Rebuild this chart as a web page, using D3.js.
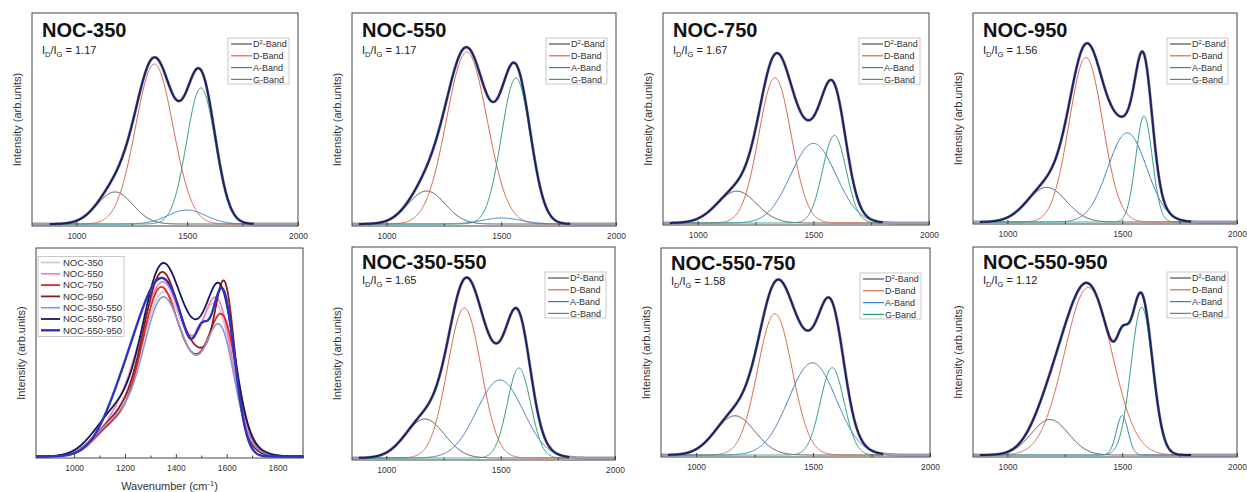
<!DOCTYPE html>
<html>
<head>
<meta charset="utf-8">
<script src="https://cdn.jsdelivr.net/npm/d3@7"></script>
<style>
  html, body { margin: 0; padding: 0; background: #fff; }
  svg { display: block; font-family: "Liberation Sans", Arial, sans-serif; }
</style>
</head>
<body>
<svg id="chart" width="1247" height="492"></svg>
<script>
// Samples and their I_D/I_G ratios
const samples = ["NOC-350", "NOC-550", "NOC-750", "NOC-950", "NOC-350-550", "NOC-550-750", "NOC-550-950"];
const ratioIDIG = ["1.17", "1.17", "1.67", "1.56", "1.65", "1.58", "1.12"];
const bandLabels = ["D2", "D", "A", "G"];

// Fitted Gaussian bands: centre (cm-1), height (arb. units), FWHM (cm-1)
const d2Centre = [1174, 1175, 1169, 1171, 1169, 1166, 1185];
const d2Height = [32, 33, 32, 35, 39, 40, 36];
const d2Fwhm   = [190, 190, 200, 200, 200, 200, 190];

const dCentre  = [1352, 1350, 1334, 1342, 1341, 1337, 1352];
const dHeight  = [160, 172, 146, 166, 150, 144, 170];
const dFwhm    = [200, 209, 165, 172, 172, 174, 245];

const aCentre  = [1498, 1502, 1500, 1522, 1497, 1497, 1500];
const aHeight  = [14, 6, 80, 90, 78, 94, 40];
const aFwhm    = [200, 200, 230, 200, 240, 240, 60];

const gCentre  = [1562, 1564, 1591, 1595, 1580, 1582, 1585];
const gHeight  = [136, 146, 88, 107, 90, 89, 150];
const gFwhm    = [152, 148, 120, 85, 120, 120, 110];

// D-band maximum of each spectrum in the overlay plot (arb. units)
const overviewPeak = [165, 175, 170, 185, 160, 194, 179];

// Axis ticks
const fitMajorTicks = [1000, 1500, 2000];
const fitMinorTicks = [1250, 1750];
const ovMajorTicks = [1000, 1200, 1400, 1600, 1800];
const ovMinorTicks = [900, 1100, 1300, 1500, 1700, 1900];

// ---------- styles & layout ----------
const bandColours = ["#4d4d55", "#d8664c", "#3a7bc0", "#2f9e7c"];
const fitColour = "#1c2163";
const rawColour = "#9a9aae";
const overviewColours = ["#dcbfd2", "#f07fb4", "#e02a2a", "#8e1c1c", "#8a98d2", "#151860", "#2c33c4"];
const overviewWidths = [1.6, 1.6, 1.8, 1.8, 1.6, 1.8, 2.4];

const fitPanels = [
  { s: 0, x0: 32,  y0: 13,  x1: 298,  y1: 226, dom: [800, 2000], row: 0 },
  { s: 1, x0: 352, y0: 13,  x1: 616,  y1: 226, dom: [850, 2000], row: 0 },
  { s: 2, x0: 663, y0: 13,  x1: 929,  y1: 225, dom: [850, 2000], row: 0 },
  { s: 3, x0: 973, y0: 13,  x1: 1237, y1: 224, dom: [850, 2000], row: 0 },
  { s: 4, x0: 352, y0: 247, x1: 615,  y1: 460, dom: [850, 2000], row: 1 },
  { s: 5, x0: 661, y0: 248, x1: 930,  y1: 457, dom: [850, 2000], row: 1 },
  { s: 6, x0: 973, y0: 247, x1: 1237, y1: 457, dom: [850, 2000], row: 1 }
];
const overview = { x0: 36, y0: 248, x1: 303, y1: 458, dom: [850, 1900] };

const svg = d3.select("#chart");
svg.append("rect").attr("width", 1247).attr("height", 492).attr("fill", "#fff");

const gauss = (x, c, h, f) => h * Math.exp(-4 * Math.LN2 * (x - c) * (x - c) / (f * f));
function bandsOf(i) {
  return [
    x => gauss(x, d2Centre[i], d2Height[i], d2Fwhm[i]),
    x => gauss(x, dCentre[i], dHeight[i], dFwhm[i]),
    x => gauss(x, aCentre[i], aHeight[i], aFwhm[i]),
    x => gauss(x, gCentre[i], gHeight[i], gFwhm[i])
  ];
}
const envelopeOf = i => { const b = bandsOf(i); return x => b.reduce((s, f) => s + f(x), 0); };

function drawFrame(g, p, x, y, major, minor) {
  g.append("g").attr("transform", `translate(0,${p.y1})`)
    .call(d3.axisBottom(x).tickValues(major).tickFormat(d3.format("d")).tickSize(-4).tickPadding(7))
    .call(a => a.select(".domain").remove())
    .call(a => a.selectAll("line").attr("stroke", "#444"))
    .call(a => a.selectAll("text").attr("font-size", 8.5).attr("fill", "#333")
      .attr("font-family", "Liberation Sans, Arial, sans-serif"));
  g.append("g").attr("transform", `translate(0,${p.y1})`)
    .call(d3.axisBottom(x).tickValues(minor).tickSize(-2.5).tickFormat(""))
    .call(a => a.select(".domain").remove())
    .call(a => a.selectAll("line").attr("stroke", "#444"));
  g.append("rect").attr("x", p.x0).attr("y", p.y0)
    .attr("width", p.x1 - p.x0).attr("height", p.y1 - p.y0)
    .attr("fill", "none").attr("stroke", "#444").attr("stroke-width", 1);
  g.append("text")
    .attr("transform", `translate(${p.x0 - 15},${(p.y0 + p.y1) / 2}) rotate(-90)`)
    .attr("text-anchor", "middle").attr("dy", "0.35em")
    .attr("font-size", 11).attr("fill", "#333")
    .text("Intensity (arb.units)");
}

// ---------- fitted spectra ----------
fitPanels.forEach(p => {
  const i = p.s;
  const g = svg.append("g");
  const x = d3.scaleLinear().domain(p.dom).range([p.x0, p.x1]);
  const y = d3.scaleLinear().domain([-2, 211]).range([p.y1, p.y0]);
  const clipId = "clip" + i;
  svg.append("clipPath").attr("id", clipId).append("rect")
    .attr("x", p.x0).attr("y", p.y0).attr("width", p.x1 - p.x0).attr("height", p.y1 - p.y0);
  const plot = g.append("g").attr("clip-path", `url(#${clipId})`);

  const env = envelopeOf(i);
  const bands = bandsOf(i);
  const line = f => d3.line().x(d => x(d)).y(d => y(f(d)));

  // measured spectrum
  plot.append("path").datum(d3.range(p.dom[0], p.dom[1] + 1, 2))
    .attr("d", line(env)).attr("fill", "none")
    .attr("stroke", rawColour).attr("stroke-width", 3);
  // band components
  bands.forEach((f, k) => {
    plot.append("path").datum(d3.range(900, 1801, 2))
      .attr("d", line(f)).attr("fill", "none")
      .attr("stroke", bandColours[k]).attr("stroke-width", 1);
  });
  // cumulative fit
  plot.append("path").datum(d3.range(880, 1801, 2))
    .attr("d", line(env)).attr("fill", "none")
    .attr("stroke", fitColour).attr("stroke-width", 2);

  drawFrame(g, p, x, y, fitMajorTicks, fitMinorTicks);

  // title and ratio
  const tY = p.row === 0 ? p.y0 + 24 : p.y0 + 22;
  const rY = p.row === 0 ? p.y0 + 41 : p.y0 + 37;
  g.append("text").attr("x", p.x0 + 10).attr("y", tY)
    .attr("font-size", 20).attr("font-weight", "bold").attr("fill", "#111")
    .text(samples[i]);
  const r = g.append("text").attr("x", p.x0 + 10).attr("y", rY)
    .attr("font-size", 11).attr("fill", "#222");
  r.append("tspan").text("I");
  r.append("tspan").attr("font-size", 7.5).attr("dy", 2.5).text("D");
  r.append("tspan").attr("dy", -2.5).text("/I");
  r.append("tspan").attr("font-size", 7.5).attr("dy", 2.5).text("G");
  r.append("tspan").attr("dy", -2.5).text(" = " + ratioIDIG[i]);

  // legend
  const lx = p.x1 - 9 - 61, ly = p.y0 + 25;
  g.append("rect").attr("x", lx).attr("y", ly).attr("width", 61).attr("height", 46)
    .attr("fill", "#fff").attr("stroke", "#bbb").attr("stroke-width", 0.8);
  bandLabels.forEach((b, k) => {
    const yy = ly + 6 + k * 11.8;
    g.append("line").attr("x1", lx + 3).attr("x2", lx + 24).attr("y1", yy).attr("y2", yy)
      .attr("stroke", bandColours[k]).attr("stroke-width", 1.2);
    const t = g.append("text").attr("x", lx + 25).attr("y", yy).attr("dy", "0.35em")
      .attr("font-size", 9).attr("fill", "#333");
    if (b === "D2") {
      t.append("tspan").text("D");
      t.append("tspan").attr("font-size", 6).attr("dy", -3.5).text("2");
      t.append("tspan").attr("dy", 3.5).text("-Band");
    } else {
      t.text(b + "-Band");
    }
  });
});

// ---------- overlay of all spectra ----------
{
  const p = overview;
  const g = svg.append("g");
  const x = d3.scaleLinear().domain(p.dom).range([p.x0, p.x1]);
  const y = d3.scaleLinear().domain([-1.5, 209]).range([p.y1, p.y0]);
  svg.append("clipPath").attr("id", "clipOv").append("rect")
    .attr("x", p.x0).attr("y", p.y0).attr("width", p.x1 - p.x0).attr("height", p.y1 - p.y0);
  const plot = g.append("g").attr("clip-path", "url(#clipOv)");
  const xs = d3.range(p.dom[0], p.dom[1] + 1, 2);

  samples.forEach((s, i) => {
    const env = envelopeOf(i);
    const peak = d3.max(d3.range(1250, 1451, 1), env);
    const k = overviewPeak[i] / peak;
    plot.append("path").datum(xs)
      .attr("d", d3.line().x(d => x(d)).y(d => y(k * env(d))))
      .attr("fill", "none").attr("stroke", overviewColours[i])
      .attr("stroke-width", overviewWidths[i]);
  });

  drawFrame(g, p, x, y, ovMajorTicks, ovMinorTicks);

  const xl = g.append("text").attr("x", (p.x0 + p.x1) / 2).attr("y", 490)
    .attr("text-anchor", "middle").attr("font-size", 11).attr("fill", "#333");
  xl.append("tspan").text("Wavenumber (cm");
  xl.append("tspan").attr("font-size", 7.5).attr("dy", -4).text("-1");
  xl.append("tspan").attr("dy", 4).text(")");

  // legend
  const lx = 38, ly = 256.5;
  g.append("rect").attr("x", lx).attr("y", ly).attr("width", 86).attr("height", 80)
    .attr("fill", "#fff").attr("stroke", "#bbb").attr("stroke-width", 0.8);
  samples.forEach((s, i) => {
    const yy = ly + 6 + i * 11.3;
    g.append("line").attr("x1", lx + 3).attr("x2", lx + 22).attr("y1", yy).attr("y2", yy)
      .attr("stroke", overviewColours[i]).attr("stroke-width", overviewWidths[i]);
    g.append("text").attr("x", lx + 25).attr("y", yy).attr("dy", "0.35em")
      .attr("font-size", 9.5).attr("fill", "#333").text(s);
  });
}
</script>
</body>
</html>
